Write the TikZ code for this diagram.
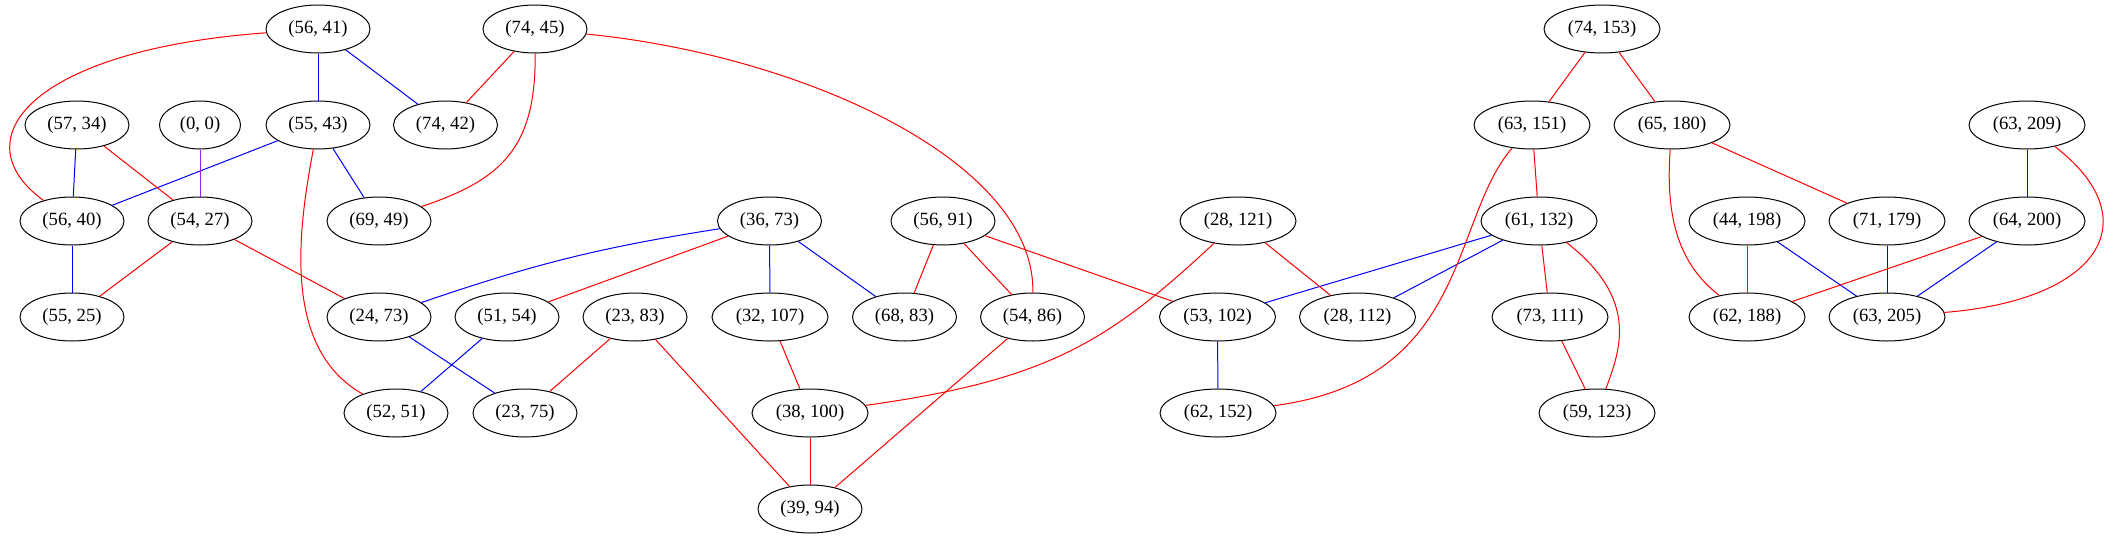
\documentclass[tikz,border=0pt]{standalone}
\usepackage{fontspec}
\setmainfont{Liberation Serif}
\usetikzlibrary{shapes.geometric}
\definecolor{gvpurple}{HTML}{A020F0}
\begin{document}
\begin{tikzpicture}[x=0.75pt,y=-0.75pt]
\tikzstyle{nd} = [draw, ellipse, inner sep=0, line width=0.75pt,
                  minimum width=78pt, minimum height=36pt,
                  font=\fontsize{14}{16}\selectfont]
\tikzstyle{ndwide} = [nd, minimum width=87pt]
\tikzstyle{ndsmall} = [nd, minimum width=60.75pt]
\tikzstyle{redline} = [draw=red, line width=0.75pt]
\tikzstyle{blueline} = [draw=blue, line width=0.75pt]
\tikzstyle{purpleline} = [draw=gvpurple, line width=0.75pt]
\useasboundingbox (0,0) rectangle (2111,539);
% first row
\node [nd] (p5641) at (318,29) {(56, 41)};
\node [nd] (p7445) at (535,29) {(74, 45)};
\node [ndwide] (p74153) at (1602,29) {(74, 153)};
% second row
\node [nd] (p5734) at (77,125) {(57, 34)};
\node [ndsmall] (p00) at (200,125) {(0, 0)};
\node [nd] (p5543) at (318,125) {(55, 43)};
\node [nd] (p7442) at (445.5,125) {(74, 42)};
\node [ndwide] (p63151) at (1532,125) {(63, 151)};
\node [ndwide] (p65180) at (1672,125) {(65, 180)};
\node [ndwide] (p63209) at (2027,125) {(63, 209)};
% third row
\node [nd] (p5640) at (72,221) {(56, 40)};
\node [nd] (p5427) at (200,221) {(54, 27)};
\node [nd] (p6949) at (379,221) {(69, 49)};
\node [nd] (p3673) at (769.5,221) {(36, 73)};
\node [nd] (p5691) at (943,221) {(56, 91)};
\node [ndwide] (p28121) at (1238,221) {(28, 121)};
\node [ndwide] (p61132) at (1539,221) {(61, 132)};
\node [ndwide] (p44198) at (1747,221) {(44, 198)};
\node [ndwide] (p71179) at (1887,221) {(71, 179)};
\node [ndwide] (p64200) at (2027,221) {(64, 200)};
% fourth row
\node [nd] (p5525) at (72,317) {(55, 25)};
\node [nd] (p2473) at (379,317) {(24, 73)};
\node [nd] (p5154) at (507,317) {(51, 54)};
\node [nd] (p2383) at (635,317) {(23, 83)};
\node [ndwide] (p32107) at (770,317) {(32, 107)};
\node [nd] (p6883) at (904.5,317) {(68, 83)};
\node [nd] (p5486) at (1032.5,317) {(54, 86)};
\node [ndwide] (p53102) at (1217.5,317) {(53, 102)};
\node [ndwide] (p28112) at (1357.5,317) {(28, 112)};
\node [ndwide] (p73111) at (1550,317) {(73, 111)};
\node [ndwide] (p62188) at (1747,317) {(62, 188)};
\node [ndwide] (p63205) at (1887,317) {(63, 205)};
% fifth and sixth row
\node [nd] (p5251) at (396,413) {(52, 51)};
\node [nd] (p2375) at (525,413) {(23, 75)};
\node [ndwide] (p38100) at (810,413) {(38, 100)};
\node [ndwide] (p62152) at (1218,413) {(62, 152)};
\node [ndwide] (p59123) at (1597,413) {(59, 123)};
\node [nd] (p3994) at (810,509) {(39, 94)};
% blue edges
\draw [blueline] (p5641) -- (p5543);
\draw [blueline] (p5641) -- (p7442);
\draw [blueline] (p5734) -- (p5640);
\draw [blueline] (p5543) -- (p5640);
\draw [blueline] (p5543) -- (p6949);
\draw [blueline] (p5640) -- (p5525);
\draw [blueline] (p3673) to [bend right=5] (p2473);
\draw [blueline] (p3673) -- (p32107);
\draw [blueline] (p3673) -- (p6883);
\draw [blueline] (p2473) -- (p2375);
\draw [blueline] (p5154) -- (p5251);
\draw [blueline] (p61132) -- (p53102);
\draw [blueline] (p61132) -- (p28112);
\draw [blueline] (p53102) -- (p62152);
\draw [blueline] (p44198) -- (p63205);
\draw [blueline] (p71179) -- (p63205);
\draw [blueline] (p64200) -- (p63205);
\draw [blueline] (p63209) -- (p64200);
% purple edge
\draw [purpleline] (p00) -- (p5427);
% red edges
\draw [redline] (p5641) .. controls (30,50) and (-40,140) .. (p5640);
\draw [redline] (p7445) -- (p7442);
\draw [redline] (p7445) .. controls (536,150) and (500,180) .. (p6949);
\draw [redline] (p7445) .. controls (800,55) and (1035,160) .. (p5486);
\draw [redline] (p5734) -- (p5427);
\draw [redline] (p5543) .. controls (296,240) and (285,350) .. (p5251);
\draw [redline] (p5427) -- (p5525);
\draw [redline] (p5427) -- (p2473);
\draw [redline] (p3673) -- (p5154);
\draw [redline] (p2383) -- (p2375);
\draw [redline] (p2383) -- (p3994);
\draw [redline] (p5691) -- (p6883);
\draw [redline] (p5691) -- (p5486);
\draw [redline] (p5691) -- (p53102);
\draw [redline] (p32107) -- (p38100);
\draw [redline] (p38100) -- (p3994);
\draw [redline] (p5486) -- (p3994);
\draw [redline] (p28121) .. controls (1110,340) and (1050,380) .. (p38100);
\draw [redline] (p28121) -- (p28112);
\draw [redline] (p61132) -- (p73111);
\draw [redline] (p61132) .. controls (1640,300) and (1620,350) .. (p59123);
\draw [redline] (p73111) -- (p59123);
\draw [redline] (p63151) -- (p61132);
\draw [redline] (p63151) .. controls (1450,220) and (1470,380) .. (p62152);
\draw [redline] (p74153) -- (p63151);
\draw [redline] (p74153) -- (p65180);
\draw [redline] (p65180) -- (p71179);
\draw [redline] (p65180) .. controls (1665,220) and (1680,265) .. (p62188);
\draw [redline] (p44198) -- (p62188);
\draw [redline] (p64200) -- (p62188);
\draw [redline] (p63209) .. controls (2150,220) and (2100,300) .. (p63205);
\end{tikzpicture}
\end{document}
